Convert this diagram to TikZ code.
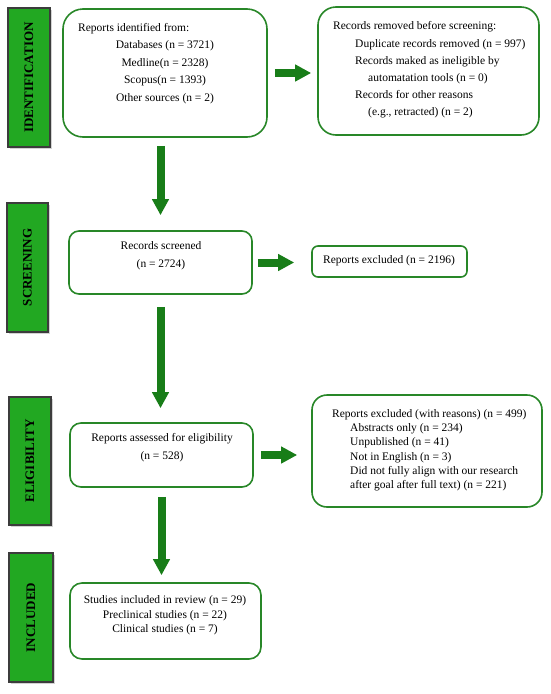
\documentclass[tikz,border=0pt]{standalone}
\usepackage{fontspec}
\setmainfont{Liberation Serif}
\usetikzlibrary{arrows.meta,shadows,calc}
\definecolor{sidegreen}{RGB}{34,168,34}
\definecolor{sideborder}{RGB}{60,60,60}
\definecolor{boxgreen}{RGB}{40,135,40}
\definecolor{arrowgreen}{RGB}{24,125,24}
\tikzset{
  sidelabel/.style={draw=sideborder, line width=2.5pt, fill=sidegreen, inner sep=0pt,
    drop shadow={shadow xshift=1.5pt, shadow yshift=-1.5pt, opacity=0.35}},
  sidetext/.style={rotate=90, inner sep=0pt, font=\fontsize{13}{15}\selectfont\bfseries},
  flowbox/.style={draw=boxgreen, line width=1.6pt, inner sep=0pt, fill=white},
  boxtext/.style={inner sep=0pt, font=\fontsize{11.5}{17.5}\selectfont},
  bigarrow/.style={draw=arrowgreen, line width=8pt, -{Triangle[width=16pt,length=16pt]}}
}
\begin{document}
\begin{tikzpicture}[x=1pt,y=-1pt]
\useasboundingbox (0,0) rectangle (550,694);
% side labels
\node[sidelabel, minimum width=42pt, minimum height=139pt] (sid) at (29,77.5) {};
\node[sidetext] (sidt) at (sid.center) {IDENTIFICATION};
\node[sidelabel, minimum width=41pt, minimum height=129pt] (ssc) at (27.5,267.5) {};
\node[sidetext] (ssct) at (ssc.center) {SCREENING};
\node[sidelabel, minimum width=42pt, minimum height=128pt] (sel) at (30,461) {};
\node[sidetext] (selt) at (sel.center) {ELIGIBILITY};
\node[sidelabel, minimum width=44pt, minimum height=129pt] (sin) at (31,617.5) {};
\node[sidetext] (sint) at (sin.center) {INCLUDED};
% boxes
\node[flowbox, rounded corners=20pt, minimum width=204pt, minimum height=128pt] (b1) at (165,73) {};
\node[flowbox, rounded corners=18pt, minimum width=221pt, minimum height=128pt] (b2) at (428.5,71) {};
\node[flowbox, rounded corners=10pt, minimum width=183pt, minimum height=63pt] (b3) at (160.5,262.5) {};
\node[flowbox, rounded corners=6pt, minimum width=155pt, minimum height=31pt] (b4) at (389.5,261.5) {};
\node[flowbox, rounded corners=11pt, minimum width=183pt, minimum height=64pt] (b5) at (161.5,455) {};
\node[flowbox, rounded corners=15pt, minimum width=230pt, minimum height=112pt] (b6) at (427,451) {};
\node[flowbox, rounded corners=12pt, minimum width=191pt, minimum height=76pt] (b7) at (165.5,621) {};
% texts
\node[boxtext, anchor=west] (t1a) at (78,29) {Reports identified from:};
\node[boxtext, align=center, anchor=north] (t1b) at (165,40.5) {Databases (n = 3721)\\Medline(n = 2328)\\Scopus(n = 1393)\\Other sources (n = 2)};
\node[boxtext, anchor=west] (t2a) at (333,27) {Records removed before screening:};
\node[boxtext, align=left, anchor=north west, font=\fontsize{11.5}{17}\selectfont] (t2b) at (355,39.5) {Duplicate records removed (n = 997)\\Records maked as ineligible by\\\hspace*{13pt}automatation tools (n = 0)\\Records for other reasons\\\hspace*{13pt}(e.g., retracted) (n = 2)};
\node[boxtext, align=center, anchor=north] (t3) at (161,241.5) {Records screened\\(n = 2724)};
\node[boxtext, anchor=west] (t4) at (323,261) {Reports excluded (n = 2196)};
\node[boxtext, align=center, anchor=north] (t5) at (162,433.5) {Reports assessed for eligibility\\(n = 528)};
\node[boxtext, anchor=west] (t6a) at (332,415) {Reports excluded (with reasons) (n = 499)};
\node[boxtext, align=left, anchor=north west, font=\fontsize{11.5}{14.2}\selectfont] (t6b) at (350,423.5) {Abstracts only (n = 234)\\Unpublished (n = 41)\\Not in English (n = 3)\\Did not fully align with our research\\after goal after full text) (n = 221)};
\node[boxtext, align=center, anchor=north, font=\fontsize{11.5}{14.5}\selectfont] (t7) at (165,595.5) {Studies included in review (n = 29)\\Preclinical studies (n = 22)\\Clinical studies (n = 7)};
% arrows
\draw[bigarrow, shorten <=8pt, shorten >=15pt] (b1.south -| b3.north) -- (b3.north);
\draw[bigarrow, shorten <=12pt, shorten >=14pt] (b3.south) -- (b3.south |- b5.north);
\draw[bigarrow, shorten <=9pt, shorten >=7pt] (b5.south) -- (b5.south |- b7.north);
\draw[bigarrow, shorten <=7pt, shorten >=6pt] (b1.east) -- (b1.east -| b2.west);
\draw[bigarrow, shorten <=5pt, shorten >=17pt] (b3.east) -- (b3.east -| b4.west);
\draw[bigarrow, shorten <=7pt, shorten >=14pt] (b5.east) -- (b5.east -| b6.west);
\end{tikzpicture}
\end{document}
